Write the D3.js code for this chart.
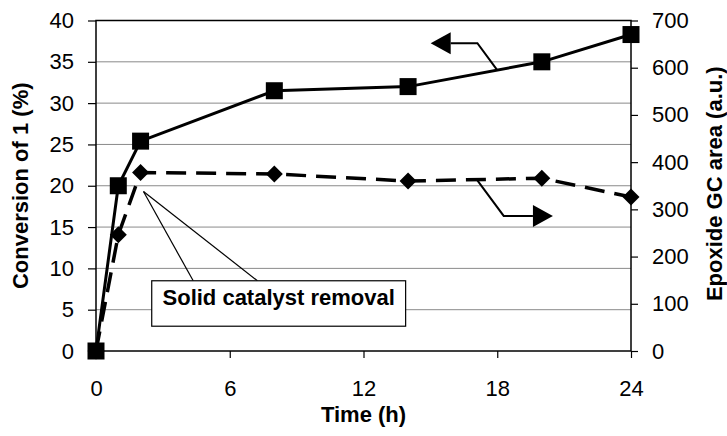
<!DOCTYPE html>
<html>
<head>
<meta charset="utf-8">
<script src="https://cdn.jsdelivr.net/npm/d3@7"></script>
<style>
  body { margin: 0; background: #fff; }
  svg { display: block; font-family: "Liberation Sans", Arial, sans-serif; }
</style>
</head>
<body>
<div id="chart"></div>
<script>
'use strict';

// data
const hours = [0, 1, 2, 8, 14, 20, 24];
const conversion = [0, 20, 25.4, 31.5, 32, 35, 38.3];   // left axis, %
const gcArea = [0, 246, 378, 375, 360, 366, 326];       // right axis, a.u.

const xTicks = [0, 6, 12, 18, 24];
const leftTicks = d3.range(0, 41, 5);
const rightTicks = d3.range(0, 701, 100);

const width = 727;
const height = 436;
const margin = { top: 20.5, right: 96, bottom: 85, left: 96 };

const svg = d3.select("#chart").append("svg")
    .attr("width", width)
    .attr("height", height);

const x = d3.scaleLinear([0, 24], [margin.left, width - margin.right]);
const yL = d3.scaleLinear([0, 40], [height - margin.bottom, margin.top]);
const yR = d3.scaleLinear([0, 700], [height - margin.bottom, margin.top]);

// gridlines
svg.append("g")
    .selectAll("line")
    .data(leftTicks.filter(d => d > 0 && d < 40))
    .join("line")
    .attr("x1", x(0)).attr("x2", x(24))
    .attr("y1", d => yL(d)).attr("y2", d => yL(d))
    .attr("stroke", "#8a8a8a")
    .attr("stroke-width", 1);

// axes
function styleAxis(g) {
    g.select(".domain").remove();
    g.selectAll(".tick line").attr("stroke", "#000").attr("stroke-width", 1.2);
    g.selectAll(".tick text")
        .attr("fill", "#000")
        .style("font-size", "22px")
        .style("font-family", "'Liberation Sans', Arial, sans-serif");
}

svg.append("g")
    .attr("transform", `translate(${margin.left},0)`)
    .call(d3.axisLeft(yL).tickValues(leftTicks).tickSize(8).tickPadding(14))
    .call(styleAxis);

svg.append("g")
    .attr("transform", `translate(${width - margin.right},0)`)
    .call(d3.axisRight(yR).tickValues(rightTicks).tickSize(7).tickPadding(14))
    .call(styleAxis);

svg.append("g")
    .attr("transform", `translate(0,${height - margin.bottom})`)
    .call(d3.axisBottom(x).tickValues(xTicks).tickSize(7).tickPadding(22))
    .call(styleAxis);

// plot frame
svg.append("rect")
    .attr("x", x(0)).attr("y", yL(40))
    .attr("width", x(24) - x(0))
    .attr("height", yL(0) - yL(40))
    .attr("fill", "none")
    .attr("stroke", "#000")
    .attr("stroke-width", 1.5);

// axis titles
svg.append("text")
    .attr("transform", `translate(28,${(yL(0) + yL(40)) / 2}) rotate(-90)`)
    .attr("text-anchor", "middle")
    .style("font-size", "22px").style("font-weight", "bold")
    .text("Conversion of 1 (%)");

svg.append("text")
    .attr("transform", `translate(722,${(yL(0) + yL(40)) / 2 - 2}) rotate(-90)`)
    .attr("text-anchor", "middle")
    .style("font-size", "22px").style("font-weight", "bold")
    .text("Epoxide GC area (a.u.)");

svg.append("text")
    .attr("x", (x(0) + x(24)) / 2)
    .attr("y", 422)
    .attr("text-anchor", "middle")
    .style("font-size", "22px").style("font-weight", "bold")
    .text("Time (h)");

// series: epoxide GC area (dashed, diamonds)
const gcData = d3.zip(hours, gcArea);
const convData = d3.zip(hours, conversion);

svg.append("path")
    .attr("d", d3.line().x(d => x(d[0])).y(d => yR(d[1]))(gcData))
    .attr("fill", "none")
    .attr("stroke", "#000")
    .attr("stroke-width", 3.5)
    .attr("stroke-dasharray", "20,10");

svg.append("g")
    .selectAll("path")
    .data(gcData)
    .join("path")
    .attr("transform", d => `translate(${x(d[0])},${yR(d[1])})`)
    .attr("d", "M0,-8.5L8.5,0L0,8.5L-8.5,0Z")
    .attr("fill", "#000");

// series: conversion (solid, squares)
svg.append("path")
    .attr("d", d3.line().x(d => x(d[0])).y(d => yL(d[1]))(convData))
    .attr("fill", "none")
    .attr("stroke", "#000")
    .attr("stroke-width", 3);

const sq = 17;
svg.append("g")
    .selectAll("rect")
    .data(convData)
    .join("rect")
    .attr("x", d => x(d[0]) - sq / 2)
    .attr("y", d => yL(d[1]) - sq / 2)
    .attr("width", sq)
    .attr("height", sq)
    .attr("fill", "#000");

// annotation: callout to the solid catalyst removal point (data units: hours, %)
const calloutTip = [2.13, 19.3];
const calloutFeet = [4.36, 7.24];
const boxX = [2.5, 13.89];
const boxY = [8.5, 3.0];

svg.append("g")
    .selectAll("line")
    .data(calloutFeet)
    .join("line")
    .attr("x1", x(calloutTip[0])).attr("y1", yL(calloutTip[1]))
    .attr("x2", d => x(d)).attr("y2", yL(boxY[0]))
    .attr("stroke", "#000")
    .attr("stroke-width", 1.2);

svg.append("rect")
    .attr("x", x(boxX[0])).attr("y", yL(boxY[0]))
    .attr("width", x(boxX[1]) - x(boxX[0]))
    .attr("height", yL(boxY[1]) - yL(boxY[0]))
    .attr("fill", "#fff")
    .attr("stroke", "#000")
    .attr("stroke-width", 1.2);

svg.append("text")
    .attr("x", (x(boxX[0]) + x(boxX[1])) / 2)
    .attr("y", yL(boxY[0]) + 24)
    .attr("text-anchor", "middle")
    .style("font-size", "22px").style("font-weight", "bold")
    .text("Solid catalyst removal");

// axis-pointer arrows (x in hours, y in that series' units)
function arrow(pts, yScale, dir) {
    const p = pts.map(d => [x(d[0]), yScale(d[1])]);
    const base = p[p.length - 1];
    const len = 20, half = 11;
    const tip = [base[0] + dir * len, base[1]];
    svg.append("path")
        .attr("d", d3.line()(p))
        .attr("fill", "none")
        .attr("stroke", "#000")
        .attr("stroke-width", 2);
    svg.append("path")
        .attr("d", `M${tip[0]},${tip[1]}L${base[0]},${base[1] - half}L${base[0]},${base[1] + half}Z`)
        .attr("fill", "#000");
}

// points to the left axis
arrow([[18.0, 34.0], [17.11, 37.26], [15.91, 37.26]], yL, -1);
// points to the right axis
arrow([[17.1, 362], [18.29, 286], [19.6, 286]], yR, 1);
</script>
</body>
</html>
